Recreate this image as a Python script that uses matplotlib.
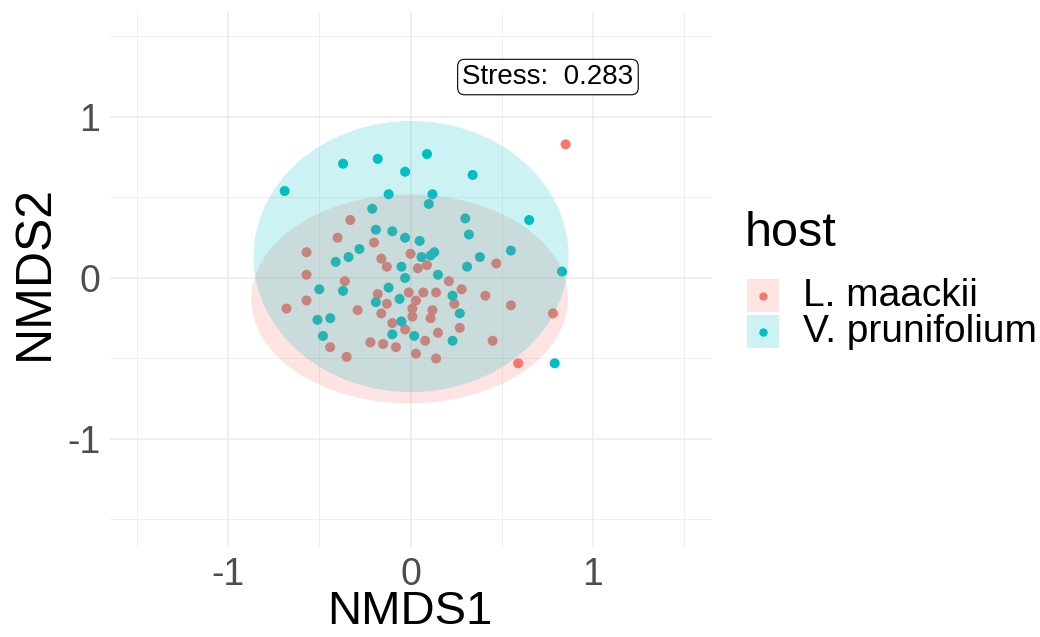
import matplotlib
matplotlib.use("Agg")
import matplotlib.pyplot as plt
from matplotlib.patches import Ellipse, Rectangle
from matplotlib.lines import Line2D

plt.rcParams['font.family'] = ['Liberation Sans', 'DejaVu Sans']

# ---- data ----
groups = ["L. maackii", "V. prunifolium"]
colors = ["#F8766D", "#00BFC4"]

lm_x = [0.85, -0.33, -0.40, -0.20, -0.57, -0.16, -0.13, 0.00, 0.04, 0.09,
        -0.57, -0.36, -0.57, -0.68, -0.29, -0.18, -0.13, -0.16, -0.01, 0.07,
        0.03, 0.14, 0.01, 0.12, 0.01, 0.11, -0.10, -0.03, 0.08, -0.22,
        -0.15, -0.08, -0.44, -0.35, 0.03, 0.14, 0.47, 0.21, 0.28, 0.41,
        0.24, 0.55, 0.78, 0.27, 0.15, 0.45, 0.59]
lm_y = [0.83, 0.36, 0.25, 0.22, 0.16, 0.12, 0.07, 0.15, 0.06, 0.08,
        0.02, -0.02, -0.14, -0.19, -0.20, -0.10, -0.16, -0.22, -0.09, -0.09,
        -0.14, -0.09, -0.19, -0.20, -0.24, -0.25, -0.28, -0.32, -0.39, -0.40,
        -0.41, -0.43, -0.43, -0.49, -0.47, -0.50, 0.09, -0.02, -0.07, -0.11,
        -0.16, -0.17, -0.22, -0.31, -0.34, -0.39, -0.53]

vp_x = [-0.69, -0.37, -0.18, 0.09, -0.03, -0.12, 0.12, 0.10, -0.21, -0.19,
        -0.10, -0.03, 0.05, -0.28, -0.34, -0.41, -0.05, -0.03, 0.06, 0.11,
        0.13, 0.15, -0.50, -0.37, -0.12, -0.19, -0.06, -0.51, -0.44, -0.48,
        -0.05, -0.10, 0.02, 0.34, 0.30, 0.65, 0.32, 0.38, 0.55, 0.31,
        0.83, 0.23, 0.27, 0.23, 0.79]
vp_y = [0.54, 0.71, 0.74, 0.77, 0.66, 0.52, 0.52, 0.46, 0.43, 0.30,
        0.29, 0.25, 0.23, 0.18, 0.13, 0.10, 0.07, 0.00, 0.13, 0.14,
        0.16, 0.02, -0.07, -0.08, -0.06, -0.15, -0.13, -0.26, -0.25, -0.36,
        -0.27, -0.35, -0.36, 0.64, 0.37, 0.36, 0.27, 0.13, 0.17, 0.07,
        0.04, -0.11, -0.22, -0.39, -0.53]

# ellipse (stat_ellipse) parameters: centre, full width, full height
ell_cx = [-0.005, 0.003]
ell_cy = [-0.13, 0.133]
ell_w = [1.736, 1.726]
ell_h = [1.298, 1.684]

stress_text = "Stress:  0.283"
stress_pos = (0.753, 1.248)

xticks = [-1, 0, 1]
yticks = [-1, 0, 1]
minor = [-1.5, -0.5, 0.5, 1.5]

# ---- figure ----
W, H = 1040, 637
fig = plt.figure(figsize=(W / 100, H / 100), dpi=100)
ax = fig.add_axes([110 / W, 90 / H, 602 / W, 535 / H])
ax.set_xlim(-1.647, 1.652)
ax.set_ylim(-1.671, 1.652)
for s in ax.spines.values():
    s.set_visible(False)

for v in minor:
    ax.axvline(v, color="#EBEBEB", lw=0.55, zorder=0)
    ax.axhline(v, color="#EBEBEB", lw=0.55, zorder=0)
for v in xticks:
    ax.axvline(v, color="#EBEBEB", lw=1.1, zorder=0)
for v in yticks:
    ax.axhline(v, color="#EBEBEB", lw=1.1, zorder=0)

xs = [lm_x, vp_x]
ys = [lm_y, vp_y]
for i in range(2):
    ax.scatter(xs[i], ys[i], s=52, color=colors[i], edgecolors='none', zorder=2)

for i in range(2):
    e = Ellipse((ell_cx[i], ell_cy[i]), ell_w[i], ell_h[i], facecolor=colors[i],
                alpha=0.2, edgecolor='none', zorder=3)
    ax.add_patch(e)

ax.text(stress_pos[0], stress_pos[1], stress_text, ha='center', va='center',
        fontsize=20, color='black', zorder=5,
        bbox=dict(boxstyle='round,pad=0.17,rounding_size=0.25', fc='white',
                  ec='black', lw=0.8))

ax.set_xticks(xticks)
ax.set_yticks(yticks)
ax.set_xticklabels([str(t) for t in xticks])
ax.set_yticklabels([str(t) for t in yticks])
ax.tick_params(length=0, labelsize=27, labelcolor='#4D4D4D')
ax.tick_params(axis='x', pad=7)
ax.tick_params(axis='y', pad=7)

fig.text(410 / W, 1 - 612 / H, "NMDS1", ha='center', va='center', fontsize=34)
fig.text(35 / W, 1 - 273 / H, "NMDS2", ha='center', va='center', fontsize=36,
         rotation=90)

# legend
fig.text(745 / W, 1 - 233 / H, "host", ha='left', va='center', fontsize=35)
key_top = [279, 315]
for i in range(2):
    y0 = key_top[i]
    fig.add_artist(Rectangle((747 / W, 1 - (y0 + 33) / H), 32 / W, 33 / H,
                             transform=fig.transFigure, facecolor=colors[i],
                             alpha=0.2, edgecolor='none'))
    fig.add_artist(Line2D([763 / W], [1 - (y0 + 16.5) / H], marker='o',
                          markersize=6, color=colors[i], markeredgewidth=0,
                          transform=fig.transFigure))
    fig.text(803 / W, 1 - (y0 + 17) / H, groups[i], ha='left', va='center',
             fontsize=28)

fig.savefig("out.png", dpi=100)
